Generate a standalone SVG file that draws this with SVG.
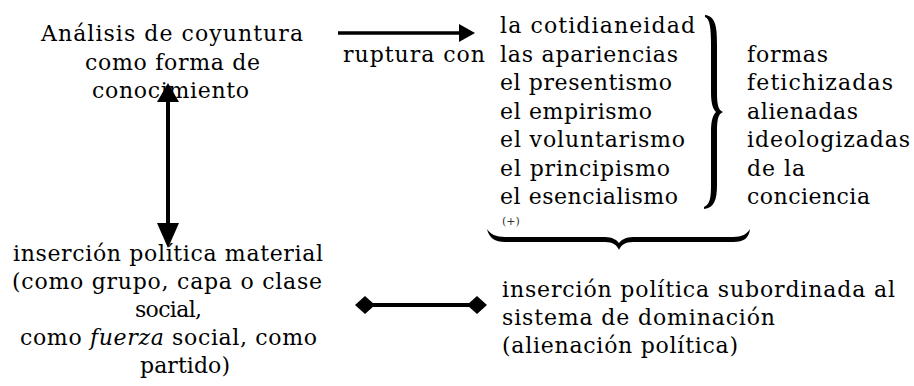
<svg xmlns="http://www.w3.org/2000/svg" width="914" height="386" viewBox="0 0 914 386">
<style>
.t{font-family:"DejaVu Serif","Liberation Serif",serif;font-size:22px;fill:#000}
.s{font-family:"DejaVu Serif","Liberation Serif",serif;font-size:11px;fill:#333}
.ln{stroke:#000;fill:none}
.hd{fill:#000;stroke:none}
</style>
<rect width="914" height="386" fill="#fff"/>
<g id="node-analisis">
<text class="t" x="41" y="41" textLength="262" lengthAdjust="spacing">Análisis de coyuntura</text>
<text class="t" x="85" y="70" textLength="175" lengthAdjust="spacing">como forma de</text>
<text class="t" x="92" y="98" textLength="157" lengthAdjust="spacing">conocimiento</text>
</g>
<g id="node-ruptura">
<text class="t" x="343" y="62" textLength="142" lengthAdjust="spacing">ruptura con</text>
</g>
<g id="node-lista">
<text class="t" x="500" y="33" textLength="195" lengthAdjust="spacing">la cotidianeidad</text>
<text class="t" x="500" y="61.5" textLength="178" lengthAdjust="spacing">las apariencias</text>
<text class="t" x="500" y="90" textLength="172" lengthAdjust="spacing">el presentismo</text>
<text class="t" x="500" y="118.5" textLength="152" lengthAdjust="spacing">el empirismo</text>
<text class="t" x="500" y="147" textLength="185" lengthAdjust="spacing">el voluntarismo</text>
<text class="t" x="500" y="175.5" textLength="170" lengthAdjust="spacing">el principismo</text>
<text class="t" x="500" y="204" textLength="178" lengthAdjust="spacing">el esencialismo</text>
<text class="s" x="502" y="225">(+)</text>
<path class="hd" d="M705,15 C716,16 717,28 717,45 L717,92 C717,104 718,110 723,112 C718,114 717,120 717,132 L717,185 C717,200 714,208 704,209 L704,207 C710,204 711,198 711,185 L711,132 C711,120 713,115 716,112 C713,109 711,104 711,92 L711,45 C711,28 710,19 705,17 Z"/>
</g>
<g id="node-formas">
<text class="t" x="747" y="62" textLength="81" lengthAdjust="spacing">formas</text>
<text class="t" x="747" y="90" textLength="146" lengthAdjust="spacing">fetichizadas</text>
<text class="t" x="747" y="118.5" textLength="111" lengthAdjust="spacing">alienadas</text>
<text class="t" x="747" y="147" textLength="163" lengthAdjust="spacing">ideologizadas</text>
<text class="t" x="747" y="175.5" textLength="58" lengthAdjust="spacing">de la</text>
<text class="t" x="747" y="204" textLength="123" lengthAdjust="spacing">conciencia</text>
</g>
<g id="brace-bottom">
<path class="hd" d="M487,229 C489,238 495,242 505,242 L605,242 C613,242 617,245 619,250 C621,245 625,242 633,242 L733,242 C744,242 749,238 750,229 C747,234 742,237 733,237 L633,237 C626,237 621,240 619,243 C617,240 612,237 605,237 L505,237 C496,237 490,234 487,229 Z"/>
</g>
<g id="node-insercion-material">
<text class="t" x="13" y="261" textLength="310" lengthAdjust="spacing">inserción política material</text>
<text class="t" x="12" y="289" textLength="310" lengthAdjust="spacing">(como grupo, capa o clase</text>
<text class="t" x="135" y="317" textLength="67" lengthAdjust="spacing">social,</text>
<text class="t" x="20" y="345" textLength="297" lengthAdjust="spacing">como <tspan font-style="italic">fuerza</tspan> social, como</text>
<text class="t" x="140" y="373" textLength="90" lengthAdjust="spacing">partido)</text>
</g>
<g id="node-insercion-subordinada">
<text class="t" x="502" y="297" textLength="393" lengthAdjust="spacing">inserción política subordinada al</text>
<text class="t" x="502" y="325" textLength="273" lengthAdjust="spacing">sistema de dominación</text>
<text class="t" x="502" y="353" textLength="236" lengthAdjust="spacing">(alienación política)</text>
</g>
<g id="connectors">
<line class="ln" x1="338" y1="33" x2="461" y2="33" stroke-width="3.5"/>
<polygon class="hd" points="459,24 475,33 459,42"/>
<line class="ln" x1="168" y1="100" x2="168" y2="225" stroke-width="4"/>
<polygon class="hd" points="168,83 179,102 157,102"/>
<polygon class="hd" points="157,223 179,223 168,248"/>
<line class="ln" x1="365" y1="305" x2="477" y2="305" stroke-width="4"/>
<polygon class="hd" points="355,305 365,296 375,305 365,314"/>
<polygon class="hd" points="467,305 477,296 487,305 477,314"/>
</g>
</svg>
